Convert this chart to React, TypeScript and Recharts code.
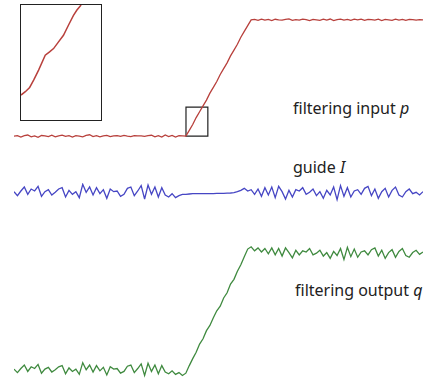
import { LineChart, Line, XAxis, YAxis, ReferenceArea } from "recharts";

// filtering input p (0 = low level, 1 = high level)
const inputP = [
  0, 0.005, -0.008, 0.004, 0.01, -0.005, 0.003, -0.01, 0.006, 0.002,
  -0.004, 0.008, -0.006, 0.003, 0.009, -0.002, 0.005, -0.007, 0.004, 0.001,
  -0.005, 0.006, 0.012, -0.003, 0.004, -0.006, 0.002, 0.007, -0.004, 0.003,
  0.005, -0.002, 0.006, 0.001, -0.003, 0.004, 0.002, 0.003, -0.001, 0.004,
  0.008, -0.006, 0.005, -0.008, 0.01, -0.004, 0.006, -0.007, 0.004, 0.002,
  0, 0.05, 0.1, 0.16, 0.21, 0.26, 0.31, 0.37, 0.42, 0.47,
  0.53, 0.58, 0.63, 0.69, 0.74, 0.79, 0.85, 0.9, 0.95, 1.0,
  1.004, 0.996, 1.006, 0.998, 1.003, 0.994, 1.005, 1.0, 0.997, 1.004,
  1.008, 0.995, 1.002, 0.997, 1.006, 1.001, 0.993, 1.004, 1.0, 0.996,
  1.005, 0.998, 1.007, 0.994, 1.002, 1.006, 0.997, 1.003, 0.995, 1.005,
  0.999, 1.006, 0.996, 1.004, 1.001, 0.997, 1.005, 0.994, 1.003, 1.0,
  0.996, 1.006, 0.998, 1.003, 0.995, 1.004, 1.001, 0.997, 1.002, 1.0,
];

// guide I (noise around its own level, flat in the middle)
const guideI = [
  0.2, -0.4, 0.3, 0.9, -0.2, 0.6, 0.3, 1.0, -0.5, 0.2,
  0.5, -0.3, 0.1, 0.6, 0.8, -0.6, 0.4, -0.2, 0.2, -0.7,
  1.3, 0.1, 0.9, -0.3, 0.8, -0.1, 0.5, -0.8, 0.6, 0.2,
  0.3, -0.5, -0.2, 0.7, 0.9, -0.4, 0.3, 1.1, -0.9, 1.2,
  -0.2, 0.9, -0.6, 0.8, -0.3, -0.6, -0.1, -0.7, -0.4, -0.2,
  -0.2, -0.15, -0.1, -0.1, -0.1, -0.1, -0.1, -0.08, -0.08, -0.05,
  -0.05, -0.05, -0.03, 0, 0.05, 0.2, 0.4,
  0.7, 0.3, 0.5, -0.2, 0.6, -0.5, 0.8, -0.3, 0.9, -0.7,
  1.0, 0.2, -0.9, 0.4, -0.6, 0.5, 0.3, 0.8, -0.2, 0.1,
  0.6, -0.4, 0.2, -0.8, 0.4, -0.3, 0.9, -1.0, 1.1, -0.5,
  0.8, -0.6, 0.3, 0.5, -0.2, 0.7, 1.0, -0.4, 0.6, -0.8,
  0.2, 0.7, -0.6, 0.4, 0.9, -0.3, -0.6, 0.2, 0.6, -0.1,
  0.1, -0.3, 0.2,
];

// filtering output q
const outputQ = [
  0.2, -0.4, 0.3, 0.9, -0.2, 0.6, 0.3, 1.0, -0.5, 0.2,
  0.5, -0.3, 0.1, 0.6, 0.8, -0.6, 0.4, -0.2, 0.2, -0.7,
  1.3, 0.1, 0.9, -0.3, 0.8, -0.1, 0.5, -0.8, 0.6, 0.2,
  0.3, -0.5, -0.2, 0.7, 0.9, -0.4, 0.3, 1.1, -0.9, 1.2,
  -0.2, 0.9, -0.6, 0.8, -0.3, -0.6, -0.1, -0.7, -0.4, -0.9,
  -0.5, 0.8, 2.0, 3.1, 4.5, 5.4, 6.8, 7.7, 9.0, 10.2,
  11.0, 12.4, 13.3, 14.8, 15.6, 17.0, 18.1, 19.5, 20.8,
  21.2, 20.5, 21.0, 20.3, 20.9, 20.0, 21.0, 19.8, 20.9, 19.6,
  21.0, 20.2, 19.3, 20.6, 19.8, 20.5, 20.3, 20.9, 19.8, 20.1,
  20.6, 19.6, 20.2, 19.2, 20.4, 19.7, 20.9, 19.0, 21.1, 19.5,
  20.8, 19.4, 20.3, 20.5, 19.8, 20.7, 21.0, 19.6, 20.6, 19.2,
  20.2, 20.7, 19.4, 20.4, 20.9, 19.7, 19.4, 20.2, 20.6, 19.9,
  20.3,
];

// zoomed detail of the ramp start (inset)
const insetX = [0, 0.54, 1.08, 1.58, 2.2, 3.03, 3.57, 4.07, 4.69, 5.31, 5.93, 6.56, 6.97, 7.51];
const insetY = [0.217, 0.246, 0.283, 0.347, 0.434, 0.564, 0.592, 0.621, 0.679, 0.737, 0.824, 0.91, 0.954, 1.0];

const toRows = (arr: number[]) => arr.map((v, i) => ({ i, v }));
const insetRows = insetX.map((x, k) => ({ i: x, v: insetY[k] }));

const labelStyle: React.CSSProperties = {
  position: "absolute",
  fontFamily: "'Noto Sans', 'Open Sans', sans-serif",
  fontSize: 16,
  color: "#222",
  lineHeight: "16px",
  whiteSpace: "nowrap",
};

function Signal({ data, top, height, domain, color, children }: any) {
  return (
    <div style={{ position: "absolute", left: 14, top, width: 409, height }}>
      <LineChart width={409} height={height} data={data} margin={{ top: 0, right: 0, bottom: 0, left: 0 }}>
        <XAxis dataKey="i" type="number" domain={[0, data.length - 1]} hide />
        <YAxis type="number" domain={domain} hide allowDataOverflow />
        <Line dataKey="v" stroke={color} strokeWidth={1.3} dot={false} isAnimationActive={false} />
        {children}
      </LineChart>
    </div>
  );
}

export default function App() {
  return (
    <div style={{ position: "absolute", left: 0, top: 0, width: 438, height: 382, background: "#fff", overflow: "hidden" }}>
      <Signal data={toRows(inputP)} top={14} height={128} domain={[-0.05, 1.05]} color="#b8403c">
        <ReferenceArea x1={50.04} x2={56.4} y1={0} y2={0.25} fill="none" fillOpacity={0} stroke="#222" strokeWidth={1.2} />
      </Signal>
      <Signal data={toRows(guideI)} top={183} height={20} domain={[-1.5, 1.5]} color="#4646c4" />
      <Signal data={toRows(outputQ)} top={245} height={134} domain={[-1.5, 21.5]} color="#3f8a3f" />

      <div style={{ position: "absolute", left: 20, top: 4, width: 80, height: 115, border: "1.5px solid #222" }}>
        <LineChart width={80} height={115} data={insetRows} margin={{ top: 0, right: 0, bottom: 0, left: 0 }}>
          <XAxis dataKey="i" type="number" domain={[0, 10]} hide />
          <YAxis type="number" domain={[0, 1]} hide />
          <Line dataKey="v" stroke="#b8403c" strokeWidth={1.5} dot={false} isAnimationActive={false} />
        </LineChart>
      </div>

      <div style={{ ...labelStyle, left: 293, top: 100 }}>
        filtering input <i>p</i>
      </div>
      <div style={{ ...labelStyle, left: 293, top: 159 }}>
        guide <i>I</i>
      </div>
      <div style={{ ...labelStyle, left: 295, top: 282 }}>
        filtering output <i>q</i>
      </div>
    </div>
  );
}
